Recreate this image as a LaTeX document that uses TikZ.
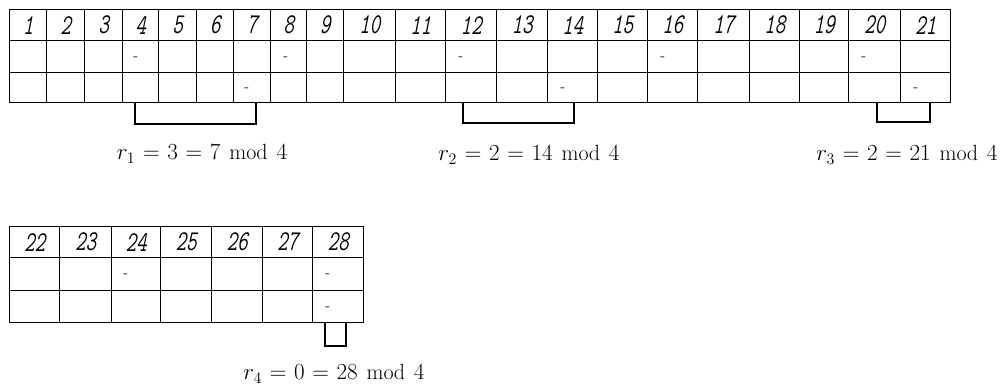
\documentclass[tikz,border=0pt]{standalone}
\usepackage{fontspec}
\newfontfamily\numfont[FakeStretch=0.72,FakeSlant=0.2]{Latin Modern Mono}
\begin{document}
\begin{tikzpicture}[x=0.75pt,y=-0.75pt,
  cell/.style={draw, line width=1pt, inner sep=0pt, anchor=north west},
  num/.style={font=\numfont\fontsize{21.5}{21.5}\selectfont},
  dashmark/.style={inner sep=0pt, anchor=west, font=\fontsize{11}{11}\selectfont},
  brk/.style={line width=1pt},
  lbl/.style={font=\fontsize{16.5}{16.5}\selectfont, inner sep=0pt}]
\useasboundingbox (0,0) rectangle (1006,392);
\foreach \i/\xa/\xb in {1/9/46,2/46/84,3/84/122,4/122/158,5/158/196,6/196/233,7/233/270,8/270/306,9/306/343,10/343/395,11/395/445,12/445/496,13/496/547,14/547/597,15/597/647,16/647/697,17/697/749,18/749/799,19/799/848,20/848/900,21/900/950,22/9/59,23/59/111,24/111/160,25/160/211,26/211/262,27/262/312,28/312/363}{
  \pgfmathsetmacro{\ya}{\i<22 ? 9 : 226}
  \pgfmathsetmacro{\yb}{\i<22 ? 40 : 257}
  \pgfmathsetmacro{\yc}{\i<22 ? 72 : 290}
  \pgfmathsetmacro{\hB}{\i<22 ? 32 : 33}
  \pgfmathsetmacro{\hC}{\i<22 ? 30 : 32}
  \node[cell, num, minimum width={(\xb-\xa)*0.75pt}, minimum height={31*0.75pt}] (h\i) at (\xa,\ya) {\i};
  \node[cell, minimum width={(\xb-\xa)*0.75pt}, minimum height={\hB*0.75pt}] (a\i) at (\xa,\yb) {};
  \node[cell, minimum width={(\xb-\xa)*0.75pt}, minimum height={\hC*0.75pt}] (b\i) at (\xa,\yc) {};
}
\foreach \c/\o in {4/11,8/13,12/13,16/13,20/13,24/12,28/13}{
  \node[dashmark] (da\c) at ([xshift=\o*0.75pt,yshift=-1.5pt]a\c.west) {-};
}
\foreach \c/\o in {7/11,14/13,21/13,28/13}{
  \node[dashmark] (db\c) at ([xshift=\o*0.75pt,yshift=-1.5pt]b\c.west) {-};
}
\coordinate (k1a) at (135,102); \coordinate (k1b) at (256,102);
\coordinate (k2a) at (463,102); \coordinate (k2b) at (574,102);
\coordinate (k3a) at (877,102); \coordinate (k3b) at (930,102);
\coordinate (k4a) at (325,322); \coordinate (k4b) at (346,322);
\draw[brk] (k1a) -- ++(0,22) -| (k1b);
\draw[brk] (k2a) -- ++(0,21) -| (k2b);
\draw[brk] (k3a) -- ++(0,20) -| (k3b);
\draw[brk] (k4a) -- ++(0,24) -| (k4b);
\thickmuskip=6mu
\node[lbl] (r1) at (202,154) {$r_1 = 3 = 7\mkern7mu\mathrm{mod}\mkern7mu4$};
\node[lbl] (r2) at (529,155) {$r_2 = 2 = 14\mkern7mu\mathrm{mod}\mkern7mu4$};
\node[lbl] (r3) at (907,155) {$r_3 = 2 = 21\mkern7mu\mathrm{mod}\mkern7mu4$};
\node[lbl] (r4) at (334,374) {$r_4 = 0 = 28\mkern7mu\mathrm{mod}\mkern7mu4$};
\end{tikzpicture}
\end{document}
